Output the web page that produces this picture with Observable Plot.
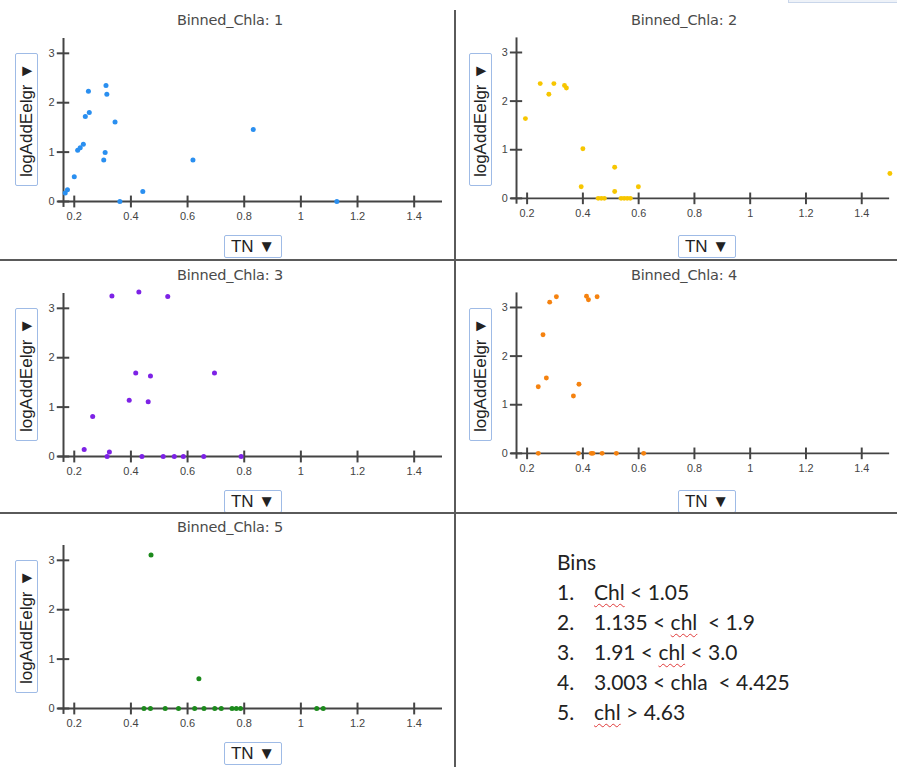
<!DOCTYPE html>
<html><head><meta charset="utf-8">
<script src="https://cdn.jsdelivr.net/npm/d3@7"></script>
<script src="https://cdn.jsdelivr.net/npm/@observablehq/plot@0.6"></script>
<style>
html,body{margin:0;padding:0;background:#fff;overflow:hidden;}
#root{position:relative;width:897px;height:767px;overflow:hidden;background:#fff;font-family:"Liberation Sans",Arial,sans-serif;}
.panel{position:absolute;}
.title{position:absolute;width:240px;text-align:center;font-family:"DejaVu Sans",sans-serif;font-size:14.5px;color:#4a4a4a;line-height:16px;letter-spacing:-0.2px;}
.ybox{position:absolute;width:23px;height:133px;border:1px solid #9fbbe6;border-radius:2px;box-sizing:border-box;}
.ybox span{position:absolute;left:50%;top:50%;transform:translate(-50%,-50%) rotate(-90deg);white-space:nowrap;font-size:17px;color:#222;}
.xbox{position:absolute;width:58px;height:23px;border:1px solid #9fbbe6;border-radius:2px;box-sizing:border-box;text-align:center;font-size:17px;line-height:21px;color:#222;}
.sep{position:absolute;background:#5a5a5a;}
.legend{position:absolute;left:557px;top:547px;font-family:Lato,"Open Sans",sans-serif;font-size:21px;line-height:30px;color:#222;}
.legend .num{display:inline-block;width:37px;}
.wavy{text-decoration:underline wavy #e03a3a;text-decoration-thickness:1px;text-underline-offset:3px;}
</style>
</head><body>
<div id="root"></div>
<script>
// ---- data ----
const binTitles = ["Binned_Chla: 1", "Binned_Chla: 2", "Binned_Chla: 3", "Binned_Chla: 4", "Binned_Chla: 5"];
const binColors = ["#2a8ff0", "#f7c600", "#7d22e6", "#f5820f", "#1c8a1c"];

const bin1TN  = [0.168, 0.176, 0.200, 0.212, 0.221, 0.232, 0.239, 0.253, 0.250, 0.312, 0.315, 0.309, 0.304, 0.344, 0.361, 0.442, 0.619, 0.832, 1.127];
const bin1Log = [0.17, 0.24, 0.50, 1.04, 1.09, 1.16, 1.72, 1.80, 2.23, 2.35, 2.17, 0.99, 0.84, 1.61, 0, 0.20, 0.84, 1.46, 0];

const bin2TN  = [0.194, 0.247, 0.296, 0.278, 0.334, 0.341, 0.400, 0.394, 0.514, 0.514, 0.599, 0.455, 0.466, 0.477, 0.537, 0.548, 0.559, 0.570, 1.501];
const bin2Log = [1.64, 2.36, 2.36, 2.14, 2.32, 2.27, 1.02, 0.24, 0.64, 0.14, 0.24, 0, 0, 0, 0, 0, 0, 0, 0.51];

const bin3TN  = [0.235, 0.265, 0.316, 0.324, 0.333, 0.428, 0.530, 0.417, 0.469, 0.394, 0.461, 0.695, 0.439, 0.514, 0.553, 0.585, 0.657, 0.789];
const bin3Log = [0.14, 0.81, 0, 0.09, 3.25, 3.33, 3.24, 1.69, 1.63, 1.14, 1.11, 1.69, 0, 0, 0, 0, 0, 0];

const bin4TN  = [0.240, 0.269, 0.257, 0.281, 0.305, 0.413, 0.420, 0.451, 0.366, 0.386, 0.240, 0.384, 0.430, 0.436, 0.469, 0.520, 0.618];
const bin4Log = [1.37, 1.55, 2.44, 3.11, 3.22, 3.23, 3.16, 3.22, 1.18, 1.42, 0, 0, 0, 0, 0, 0, 0];

const bin5TN  = [0.471, 0.640, 0.446, 0.469, 0.521, 0.568, 0.625, 0.658, 0.696, 0.719, 0.757, 0.772, 0.787, 1.056, 1.079];
const bin5Log = [3.11, 0.60, 0, 0, 0, 0, 0, 0, 0, 0, 0, 0, 0, 0, 0];

const xTicks = [0.2, 0.4, 0.6, 0.8, 1, 1.2, 1.4];
const yTicks = [0, 1, 2, 3];
const xLabel = "TN ▼";
const yLabel = "logAddEelgr ▼";

const legendTitle = "Bins";
const legendNums = ["1.", "2.", "3.", "4.", "5."];
const legendItems = [
  ['<span class="wavy">Chl</span> &lt; 1.05'],
  ['1.135 &lt; <span class="wavy">chl</span> &nbsp;&lt; 1.9'],
  ['1.91 &lt; <span class="wavy">chl</span> &lt; 3.0'],
  ['3.003 &lt; chla &nbsp;&lt; 4.425'],
  ['<span class="wavy">chl</span> &gt; 4.63']
];

// ---- layout ----
const bins = [[bin1TN, bin1Log], [bin2TN, bin2Log], [bin3TN, bin3Log], [bin4TN, bin4Log], [bin5TN, bin5Log]];
const panelLeft = [0, 454, 0, 454, 0];
const panelTop = [0, 0, 255, 255, 507];
const xDomain = [0.162, 1.5];
const yDomain = [0, 3.3];

const root = document.getElementById("root");

bins.forEach(([tn, lg], i) => {
  const data = tn.map((v, k) => ({TN: v, log: lg[k]}));
  const plot = Plot.plot({
    width: 450, height: 255,
    marginLeft: 63, marginRight: 8, marginTop: 38, marginBottom: 54,
    x: {domain: xDomain},
    y: {domain: yDomain},
    style: {background: "transparent", overflow: "visible", fontFamily: "'Liberation Sans', Arial, sans-serif"},
    marks: [
      Plot.ruleY([0], {x1: xDomain[0] - 0.018, x2: xDomain[1], stroke: "#444", strokeWidth: 2}),
      Plot.ruleX([xDomain[0]], {y1: -0.12, y2: yDomain[1], stroke: "#444", strokeWidth: 2}),
      Plot.ruleX(xTicks, {y1: -0.13, y2: 0.11, stroke: "#444", strokeWidth: 2}),
      Plot.ruleY(yTicks, {x1: xDomain[0] - 0.022, x2: xDomain[0] + 0.022, stroke: "#444", strokeWidth: 2}),
      Plot.axisX(xTicks, {tickSize: 0, tickPadding: 11, fontSize: 11, fill: "#444", label: null, tickFormat: d => String(+d.toFixed(1))}),
      Plot.axisY(yTicks, {tickSize: 0, tickPadding: 9, fontSize: 11, fill: "#444", label: null}),
      Plot.dot(data, {x: "TN", y: "log", r: 2.5, fill: binColors[i], stroke: "none"})
    ]
  });
  const wrap = document.createElement("div");
  wrap.className = "panel";
  wrap.style.left = panelLeft[i] + "px";
  wrap.style.top = panelTop[i] + "px";
  wrap.appendChild(plot);
  root.appendChild(wrap);

  const t = document.createElement("div");
  t.className = "title";
  t.textContent = binTitles[i];
  t.style.left = (panelLeft[i] + 230 - 120) + "px";
  t.style.top = (panelTop[i] + 12) + "px";
  root.appendChild(t);

  const yb = document.createElement("div");
  yb.className = "ybox";
  yb.style.left = (panelLeft[i] + 15) + "px";
  yb.style.top = (panelTop[i] + 53) + "px";
  yb.innerHTML = "<span>" + yLabel + "</span>";
  root.appendChild(yb);

  const xb = document.createElement("div");
  xb.className = "xbox";
  xb.style.left = (panelLeft[i] + 224) + "px";
  xb.style.top = (panelTop[i] + 235) + "px";
  xb.textContent = xLabel;
  root.appendChild(xb);
});

// separators
function sep(l, t, w, h) {
  const d = document.createElement("div");
  d.className = "sep";
  Object.assign(d.style, {left: l + "px", top: t + "px", width: w + "px", height: h + "px"});
  root.appendChild(d);
}
sep(454, 10, 2, 757);
sep(0, 259, 897, 2);
sep(0, 512, 897, 2);

// faint box at top right
const tb = document.createElement("div");
Object.assign(tb.style, {position: "absolute", left: "788px", top: "-20px", width: "120px", height: "23px", background: "#eef2f8", border: "1px solid #c9d6ea", boxSizing: "border-box"});
root.appendChild(tb);

// legend
const lg = document.createElement("div");
lg.className = "legend";
lg.innerHTML = "<div>" + legendTitle + "</div>" +
  legendItems.map((s, k) => '<div><span class="num">' + legendNums[k] + '</span>' + s[0] + '</div>').join("");
root.appendChild(lg);
</script>
</body></html>
